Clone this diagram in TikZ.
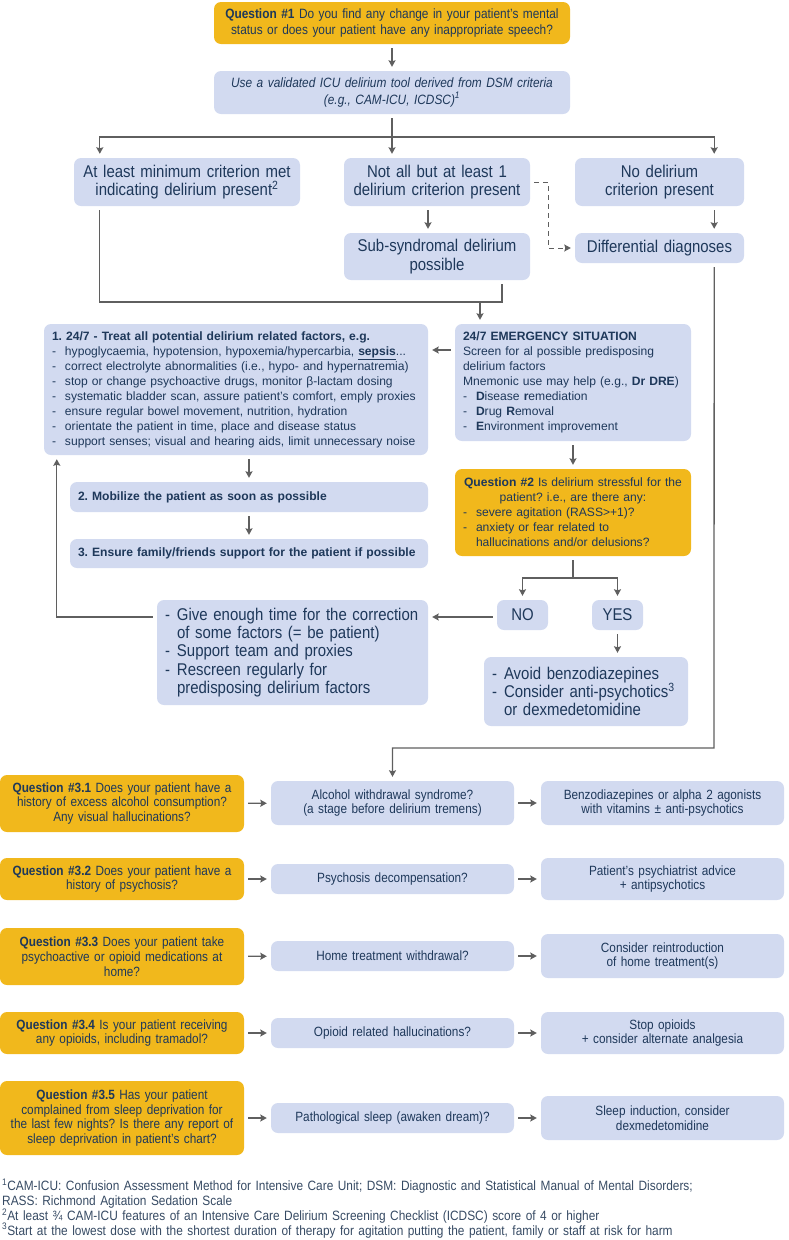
\documentclass[tikz,border=0pt]{standalone}
\usepackage{fontspec}
\setmainfont{Liberation Sans}
\newfontfamily\narrowfont[FakeStretch=0.88,WordSpace=0.88]{Liberation Sans}
\usepackage{tikz}
\usetikzlibrary{arrows,arrows.meta,shapes,positioning}
\usepackage{xcolor}
\definecolor{dlorange}{RGB}{241,184,28}
\definecolor{dlblue}{RGB}{210,218,240}
\definecolor{dlnavy}{RGB}{30,56,90}
\definecolor{dlgray}{RGB}{95,95,95}
\newcommand{\fbig}{\narrowfont\fontsize{17}{18.3}\selectfont}
\newcommand{\fmid}{\narrowfont\fontsize{13.5}{16.3}\selectfont}
\newcommand{\frow}{\narrowfont\fontsize{13.4}{14.8}\selectfont}
\newcommand{\freg}{\fontsize{12.1}{15}\selectfont}
\newcommand{\fnote}{\narrowfont\fontsize{13.5}{14.7}\selectfont}
\newcommand{\itm}{\makebox[13pt][l]{-}}
\newcommand{\itmb}{\makebox[12pt][l]{-}}
\tikzstyle{arrow} = [line width=1.3pt,->,>={Stealth[length=6.5pt,width=7pt,inset=1pt]},color=dlgray,shorten >=4pt,shorten <=4pt]
\tikzstyle{link} = [line width=1.3pt,color=dlgray]
\tikzstyle{qbox} = [fill=dlorange,rounded corners=7pt,text=dlnavy,inner sep=0pt,align=center]
\tikzstyle{bbox} = [fill=dlblue,rounded corners=7pt,text=dlnavy,inner sep=0pt,align=center]
\frenchspacing
\begin{document}
\begin{tikzpicture}[x=1pt,y=-1pt]
\useasboundingbox (0,0) rectangle (788,1240);

% Screening
\node[qbox, minimum width=356pt, minimum height=42pt, text width=346pt, font=\fmid] (q1) at (392,23)
  {\textbf{Question \#1} Do you find any change in your patient’s mental\\status or does your patient have any inappropriate speech?};
\node[bbox, minimum width=356pt, minimum height=43pt, text width=346pt, font=\fmid\itshape] (tool) at (392,92.5)
  {Use a validated ICU delirium tool derived from DSM criteria\\(e.g., CAM-ICU, ICDSC)\textsuperscript{1}};

% Outcomes of the tool
\node[bbox, minimum width=226pt, minimum height=48pt, text width=220pt, font=\fbig] (crit) at (187,182)
  {At least minimum criterion met\\indicating delirium present\textsuperscript{2}};
\node[bbox, minimum width=186pt, minimum height=48pt, text width=180pt, font=\fbig] (part) at (437,182)
  {Not all but at least 1\\delirium criterion present};
\node[bbox, minimum width=169pt, minimum height=48pt, text width=163pt, font=\fbig] (nocrit) at (659.5,182)
  {No delirium\\criterion present};
\node[bbox, minimum width=186pt, minimum height=47pt, text width=180pt, font=\fbig] (subsyn) at (437,256.5)
  {Sub-syndromal delirium\\possible};
\node[bbox, minimum width=169pt, minimum height=30pt, text width=163pt, font=\fbig] (diff) at (659.5,248)
  {Differential diagnoses};

% Treatment
\node[bbox, minimum width=384pt, minimum height=131pt, text width=368pt, align=left, font=\freg] (treat) at (236,389.5)
  {\textbf{1. 24/7 - Treat all potential delirium related factors, e.g.}\\
   \itm hypoglycaemia, hypotension, hypoxemia/hypercarbia, \textbf{\underline{sepsis}}...\\
   \itm correct electrolyte abnormalities (i.e., hypo- and hypernatremia)\\
   \itm stop or change psychoactive drugs, monitor β-lactam dosing\\
   \itm systematic bladder scan, assure patient’s comfort, emply proxies\\
   \itm ensure regular bowel movement, nutrition, hydration\\
   \itm orientate the patient in time, place and disease status\\
   \itm support senses; visual and hearing aids, limit unnecessary noise};
\node[bbox, minimum width=236pt, minimum height=117pt, text width=220pt, align=left, font=\freg] (emerg) at (573,382.5)
  {\textbf{24/7 EMERGENCY SITUATION}\\
   Screen for al possible predisposing\\
   delirium factors\\
   Mnemonic use may help (e.g., \textbf{Dr DRE})\\
   \itm\textbf{D}isease \textbf{r}emediation\\
   \itm\textbf{D}rug \textbf{R}emoval\\
   \itm\textbf{E}nvironment improvement};
\node[bbox, minimum width=358pt, minimum height=30pt, text width=342pt, align=left, font=\freg] (mobil) at (249,497)
  {\textbf{2. Mobilize the patient as soon as possible}};
\node[bbox, minimum width=358pt, minimum height=29pt, text width=342pt, align=left, font=\freg] (family) at (249,553.5)
  {\textbf{3. Ensure family/friends support for the patient if possible}};
\node[qbox, minimum width=236pt, minimum height=87pt, text width=220pt, align=left, font=\freg] (q2) at (573,512.5)
  {\makebox[\linewidth][c]{\textbf{Question \#2} Is delirium stressful for the}\\
   \makebox[\linewidth][c]{patient? i.e., are there any:}\\
   \itm severe agitation (RASS>+1)?\\
   \itm anxiety or fear related to\\
   \hspace*{13pt}hallucinations and/or delusions?};
\node[bbox, minimum width=51pt, minimum height=30pt, font=\fbig] (no) at (522.5,615) {NO};
\node[bbox, minimum width=51pt, minimum height=30pt, font=\fbig] (yes) at (617.5,615) {YES};
\node[bbox, minimum width=271pt, minimum height=105pt, text width=255pt, align=left, font=\fbig] (give) at (292.5,652.5)
  {\itmb Give enough time for the correction\\
   \hspace*{12pt}of some factors (= be patient)\\
   \itmb Support team and proxies\\
   \itmb Rescreen regularly for\\
   \hspace*{12pt}predisposing delirium factors};
\node[bbox, minimum width=204pt, minimum height=69pt, text width=188pt, align=left, font=\fbig] (avoid) at (586,691.5)
  {\itmb Avoid benzodiazepines\\
   \itmb Consider anti-psychotics\textsuperscript{3}\\
   \hspace*{12pt}or dexmedetomidine};

% Differential diagnoses rows
\node[qbox, minimum width=244pt, minimum height=57pt, text width=238pt, font=\frow] (q31) at (122,803.5)
  {\textbf{Question \#3.1} Does your patient have a\\history of excess alcohol consumption?\\Any visual hallucinations?};
\node[bbox, minimum width=243pt, minimum height=44pt, text width=237pt, font=\frow] (m31) at (392.5,803)
  {Alcohol withdrawal syndrome?\\(a stage before delirium tremens)};
\node[bbox, minimum width=243pt, minimum height=44pt, text width=237pt, font=\frow] (r31) at (662.5,803)
  {Benzodiazepines or alpha 2 agonists\\with vitamins ± anti-psychotics};

\node[qbox, minimum width=244pt, minimum height=42pt, text width=238pt, font=\frow] (q32) at (122,879)
  {\textbf{Question \#3.2} Does your patient have a\\history of psychosis?};
\node[bbox, minimum width=243pt, minimum height=30pt, text width=237pt, font=\frow] (m32) at (392.5,879)
  {Psychosis decompensation?};
\node[bbox, minimum width=243pt, minimum height=42pt, text width=237pt, font=\frow] (r32) at (662.5,879)
  {Patient’s psychiatrist advice\\+ antipsychotics};

\node[qbox, minimum width=244pt, minimum height=57pt, text width=238pt, font=\frow] (q33) at (122,956.5)
  {\textbf{Question \#3.3} Does your patient take\\psychoactive or opioid medications at\\home?};
\node[bbox, minimum width=243pt, minimum height=30pt, text width=237pt, font=\frow] (m33) at (392.5,956)
  {Home treatment withdrawal?};
\node[bbox, minimum width=243pt, minimum height=44pt, text width=237pt, font=\frow] (r33) at (662.5,956)
  {Consider reintroduction\\of home treatment(s)};

\node[qbox, minimum width=244pt, minimum height=42pt, text width=238pt, font=\frow] (q34) at (122,1033)
  {\textbf{Question \#3.4} Is your patient receiving\\any opioids, including tramadol?};
\node[bbox, minimum width=243pt, minimum height=30pt, text width=237pt, font=\frow] (m34) at (392.5,1033)
  {Opioid related hallucinations?};
\node[bbox, minimum width=243pt, minimum height=42pt, text width=237pt, font=\frow] (r34) at (662.5,1033)
  {Stop opioids\\+ consider alternate analgesia};

\node[qbox, minimum width=244pt, minimum height=74pt, text width=238pt, font=\frow] (q35) at (122,1118)
  {\textbf{Question \#3.5} Has your patient\\complained from sleep deprivation for\\the last few nights? Is there any report of\\sleep deprivation in patient’s chart?};
\node[bbox, minimum width=243pt, minimum height=30pt, text width=237pt, font=\frow] (m35) at (392.5,1118)
  {Pathological sleep (awaken dream)?};
\node[bbox, minimum width=243pt, minimum height=44pt, text width=237pt, font=\frow] (r35) at (662.5,1118)
  {Sleep induction, consider\\dexmedetomidine};

% Footnotes
\node[anchor=north west, inner sep=0pt, text width=786pt, align=left, text=dlnavy!75!gray, font=\fnote] (notes) at (2,1179)
  {\textsuperscript{1}CAM-ICU: Confusion Assessment Method for Intensive Care Unit; DSM: Diagnostic and Statistical Manual of Mental Disorders;\\
   RASS: Richmond Agitation Sedation Scale\\
   \textsuperscript{2}At least ¾ CAM-ICU features of an Intensive Care Delirium Screening Checklist (ICDSC) score of 4 or higher\\
   \textsuperscript{3}Start at the lowest dose with the shortest duration of therapy for agitation putting the patient, family or staff at risk for harm};

% Connectors, top part
\coordinate (split) at (392,137);
\draw[arrow] (q1) -- (tool);
\draw[link, shorten <=4pt] (tool.south) -- (split);
\draw[arrow, shorten <=0pt] (split) -| ([xshift=26pt]crit.north west);
\draw[arrow, shorten <=0pt] (split) -- (split |- part.north);
\draw[arrow, shorten <=0pt] (split) -| ([xshift=-30pt]nocrit.north east);
\draw[arrow] ([xshift=-9pt]part.south) -- ([xshift=-9pt]subsyn.north);
\draw[arrow] ([xshift=-30pt]nocrit.south east) -- ([xshift=-30pt]diff.north east);
\draw[arrow, dashed, dash pattern=on 5pt off 4pt, line width=1pt] (part.east) -- ++(18,0) |- (diff.west);

% Merge into the emergency box
\coordinate (merge) at (480,302);
\draw[link, shorten <=4pt] ([xshift=26pt]crit.south west) |- (merge);
\draw[link, shorten <=4pt] ([xshift=65pt]subsyn.south) |- (merge);
\draw[arrow, shorten <=0pt] (merge) -- (merge |- emerg.north);

% Treatment part
\coordinate (e2t) at ([yshift=32.5pt]emerg.west);
\draw[arrow] (e2t) -- (e2t -| treat.east);
\draw[arrow] (mobil.north |- treat.south) -- (mobil.north);
\draw[arrow] (mobil) -- (family);
\draw[arrow] (emerg) -- (q2);
\coordinate (fork) at (573,578);
\draw[link, shorten <=4pt] (q2.south) -- (fork);
\draw[arrow, shorten <=0pt] (fork) -| (no.north);
\draw[arrow, shorten <=0pt] (fork) -| (yes.north);
\draw[arrow] ([yshift=-2pt]no.west) -- ([yshift=-2pt]no.west -| give.east);
\draw[arrow] ([yshift=-2pt]no.west -| give.west) -| ([xshift=13pt]treat.south west);
\draw[arrow] (yes.south) -- (yes.south |- avoid.north);

% Differential diagnoses
\coordinate (drop) at (714,748);
\draw[arrow] ([xshift=-30pt]diff.south east) -- (drop) -| (m31.north);
\foreach \r in {1,...,5} {
  \draw[arrow] (q3\r) -- (m3\r);
  \draw[arrow] (m3\r) -- (r3\r);
}
\end{tikzpicture}
\end{document}
